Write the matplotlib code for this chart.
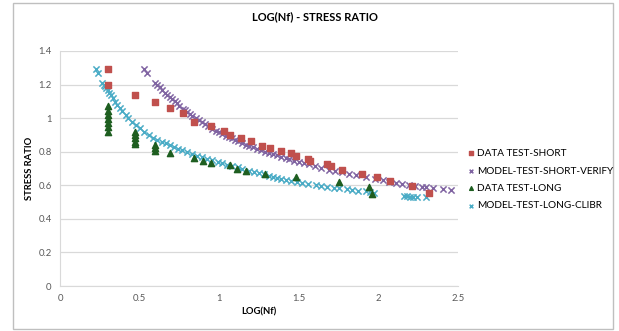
import matplotlib.pyplot as plt
from matplotlib.patches import Rectangle

plt.rcParams['font.family'] = ['Lato', 'DejaVu Sans']

# DATA TEST-SHORT (red squares)
short_x = [0.30, 0.30, 0.47, 0.595, 0.69, 0.77, 0.84, 0.95, 1.03, 1.07, 1.14, 1.20,
           1.27, 1.32, 1.39, 1.45, 1.48, 1.56, 1.57, 1.68, 1.70, 1.77, 1.90, 1.99,
           2.07, 2.21, 2.32]
short_y = [1.29, 1.20, 1.136, 1.095, 1.06, 1.03, 0.98, 0.955, 0.922, 0.90, 0.88, 0.866,
           0.836, 0.822, 0.805, 0.79, 0.776, 0.757, 0.742, 0.728, 0.712, 0.694, 0.67, 0.65,
           0.623, 0.593, 0.552]

# MODEL-TEST-SHORT-VERIFY (purple x)
verify_x = [0.53, 0.545, 0.595, 0.61, 0.625, 0.643, 0.66, 0.675, 0.69, 0.706, 0.72, 0.735,
            0.75, 0.77, 0.785, 0.80, 0.815, 0.83, 0.852, 0.87, 0.89, 0.91, 0.93, 0.957,
            0.98, 1.00, 1.02, 1.04, 1.06, 1.082, 1.10, 1.12, 1.145, 1.17, 1.19, 1.21,
            1.235, 1.26, 1.285, 1.31, 1.335, 1.36, 1.39, 1.42, 1.44, 1.47, 1.50, 1.53,
            1.564, 1.60, 1.64, 1.69, 1.73, 1.77, 1.815, 1.86, 1.92, 1.98, 2.03, 2.067,
            2.11, 2.15, 2.19, 2.23, 2.276, 2.30, 2.34, 2.406, 2.454]
verify_y = [1.29, 1.27, 1.21, 1.20, 1.185, 1.166, 1.152, 1.14, 1.128, 1.117, 1.104, 1.09,
            1.075, 1.057, 1.046, 1.035, 1.024, 1.013, 0.998, 0.987, 0.975, 0.963, 0.952, 0.938,
            0.926, 0.915, 0.905, 0.895, 0.887, 0.879, 0.87, 0.861, 0.851, 0.842, 0.834, 0.826,
            0.818, 0.809, 0.801, 0.795, 0.786, 0.778, 0.769, 0.76, 0.754, 0.746, 0.738, 0.731,
            0.724, 0.714, 0.705, 0.694, 0.685, 0.677, 0.668, 0.66, 0.649, 0.64, 0.63, 0.622,
            0.615, 0.61, 0.604, 0.598, 0.591, 0.588, 0.585, 0.575, 0.569]

# DATA TEST-LONG (green triangles)
long_x = [0.30, 0.30, 0.30, 0.30, 0.30, 0.30, 0.30, 0.47, 0.47, 0.47, 0.47, 0.47,
          0.595, 0.595, 0.595, 0.69, 0.84, 0.90, 0.95, 1.07, 1.11, 1.17, 1.29, 1.48,
          1.75, 1.94, 1.96]
long_y = [1.07, 1.045, 1.02, 0.995, 0.97, 0.945, 0.92, 0.92, 0.90, 0.88, 0.86, 0.845,
          0.84, 0.82, 0.805, 0.795, 0.765, 0.745, 0.73, 0.72, 0.70, 0.685, 0.665, 0.648,
          0.62, 0.59, 0.548]

# MODEL-TEST-LONG-CLIBR (cyan x)
clibr_x = [0.224, 0.24, 0.266, 0.275, 0.283, 0.291, 0.30, 0.31, 0.318, 0.33, 0.345, 0.36,
           0.375, 0.39, 0.413, 0.43, 0.45, 0.475, 0.50, 0.53, 0.559, 0.585, 0.61, 0.64,
           0.664, 0.69, 0.715, 0.74, 0.768, 0.80, 0.83, 0.86, 0.894, 0.925, 0.955, 0.99,
           1.02, 1.05, 1.08, 1.115, 1.145, 1.187, 1.22, 1.25, 1.28, 1.313, 1.34, 1.365,
           1.39, 1.418, 1.45, 1.49, 1.52, 1.56, 1.606, 1.64, 1.68, 1.72, 1.75, 1.80,
           1.836, 1.87, 1.92, 1.95, 1.972, 2.16, 2.18, 2.20, 2.22, 2.245, 2.297]
clibr_y = [1.29, 1.27, 1.21, 1.20, 1.19, 1.18, 1.165, 1.15, 1.137, 1.12, 1.098, 1.077,
           1.058, 1.042, 1.017, 1.001, 0.98, 0.958, 0.94, 0.918, 0.898, 0.884, 0.872, 0.86,
           0.849, 0.838, 0.828, 0.819, 0.809, 0.797, 0.787, 0.777, 0.766, 0.757, 0.748, 0.738,
           0.73, 0.722, 0.715, 0.707, 0.70, 0.688, 0.68, 0.673, 0.665, 0.657, 0.651, 0.645,
           0.639, 0.632, 0.625, 0.617, 0.612, 0.606, 0.603, 0.597, 0.591, 0.585, 0.581, 0.575,
           0.571, 0.568, 0.565, 0.56, 0.555, 0.536, 0.534, 0.533, 0.532, 0.53, 0.528]

xticks = [0, 0.5, 1, 1.5, 2, 2.5]
xtick_labels = ['0', '0.5', '1', '1.5', '2', '2.5']
yticks = [0, 0.2, 0.4, 0.6, 0.8, 1, 1.2, 1.4]
ytick_labels = ['0', '0.2', '0.4', '0.6', '0.8', '1', '1.2', '1.4']

fig = plt.figure(figsize=(6.19, 3.31), dpi=100)
ax = fig.add_axes([60 / 619, 45 / 331, 398 / 619, 235 / 331])

# outer chart border
fig.patches.append(Rectangle((13 / 619, 2 / 331), 600 / 619, 326 / 331, transform=fig.transFigure,
                             fill=False, edgecolor='#BFBFBF', linewidth=1))

ax.scatter(short_x, short_y, marker='s', s=14, color='#C0504D', label='DATA TEST-SHORT', zorder=3)
ax.scatter(verify_x, verify_y, marker='x', s=20, color='#8064A2', linewidths=1.1,
           label='MODEL-TEST-SHORT-VERIFY', zorder=2)
ax.scatter(long_x, long_y, marker='^', s=20, color='#1E5E20', label='DATA TEST-LONG', zorder=3)
ax.scatter(clibr_x, clibr_y, marker='x', s=20, color='#4BACC6', linewidths=1.1,
           label='MODEL-TEST-LONG-CLIBR', zorder=2)

ax.set_xlim(0, 2.5)
ax.set_ylim(0, 1.4)
ax.set_xticks(xticks)
ax.set_xticklabels(xtick_labels)
ax.set_yticks(yticks)
ax.set_yticklabels(ytick_labels)
ax.tick_params(length=0, labelsize=6.8, labelcolor='#595959', pad=6)
ax.grid(axis='y', color='#D9D9D9', linewidth=0.9)
ax.set_axisbelow(True)
for side in ['top', 'right']:
    ax.spines[side].set_visible(False)
for side in ['left', 'bottom']:
    ax.spines[side].set_color('#D9D9D9')

ax.set_xlabel('LOG(Nf)', fontsize=6.8, fontweight='bold', labelpad=3)
ax.set_ylabel('STRESS RATIO', fontsize=6.8, fontweight='bold', labelpad=3)
fig.text(315 / 619, 1 - 17 / 331, 'LOG(Nf) - STRESS RATIO', fontsize=8, fontweight='bold',
         ha='center', va='center')

fig.legend(loc='upper left', bbox_to_anchor=(456 / 619, 1 - 140 / 331), frameon=False,
           fontsize=7.2, markerscale=0.6, handletextpad=0.0, labelspacing=0.85, handlelength=1.2)

fig.savefig('out.png', dpi=100)
